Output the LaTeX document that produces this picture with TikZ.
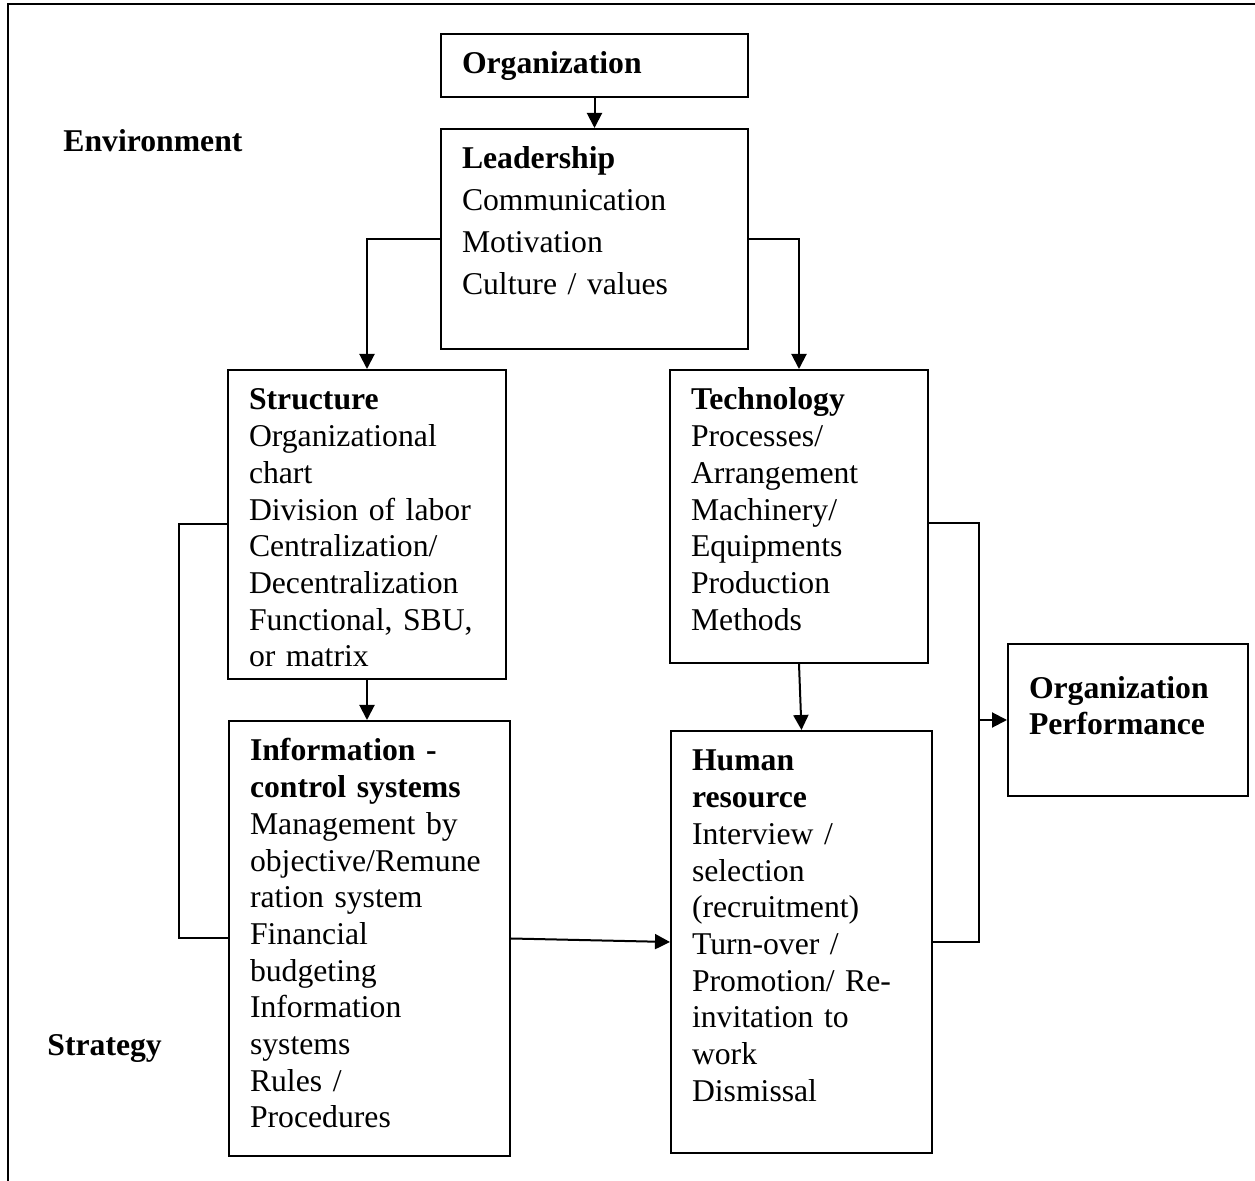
\documentclass[tikz,border=0pt]{standalone}
\usepackage{fontspec}
\setmainfont{Liberation Serif}
\usetikzlibrary{arrows.meta}
\tikzset{
  block/.style={draw, line width=1pt, anchor=north west, align=left,
    inner xsep=10.5pt, inner ysep=0pt, text height=20pt,
    font=\fontsize{15.85}{18.35}\selectfont},
  sidetext/.style={anchor=base west, inner sep=0pt,
    font=\fontsize{15.85}{18.35}\selectfont\bfseries},
  link/.style={line width=1pt},
  arr/.style={link, -{Triangle[length=7.5pt,width=7.5pt]}}
}

\begin{document}
\begin{tikzpicture}[x=0.5pt, y=-0.5pt]
  \useasboundingbox (0,0) rectangle (1255,1181);
  \draw[line width=1.2pt] (8,1181) -- (8,4) -- (1255,4);

  \node[sidetext] (env) at (63,152) {Environment};
  \node[sidetext] (strat) at (47,1056) {Strategy};

  \node[block, text width=132.5pt, text depth=11.5pt] (org) at (440,33)
    {\textbf{Organization}};
  \node[block, text width=132.5pt, text depth=90pt,
    font=\fontsize{15.85}{21}\selectfont] (lead) at (440,128)
    {\textbf{Leadership}\\Communication\\Motivation\\Culture / values};
  \node[block, text width=118pt, text depth=134.5pt] (struct) at (227,369)
    {\textbf{Structure}\\Organizational\\chart\\Division of labor\\Centralization/\\Decentralization\\Functional, SBU,\\or matrix};
  \node[block, text width=108pt, text depth=126.5pt] (tech) at (669,369)
    {\textbf{Technology}\\Processes/\\Arrangement\\Machinery/\\Equipments\\Production\\Methods};
  \node[block, text width=119.5pt, text depth=197.5pt] (info) at (228,720)
    {\textbf{Information -}\\\textbf{control systems}\\Management by\\objective/Remune\\ration system\\Financial\\budgeting\\Information\\systems\\Rules /\\Procedures};
  \node[block, text width=109.5pt, text depth=191pt] (hr) at (670,730)
    {\textbf{Human}\\\textbf{resource}\\Interview /\\selection\\(recruitment)\\Turn-over /\\Promotion/ Re-\\invitation to\\work\\Dismissal};
  \node[block, text width=99pt, text height=27.5pt, text depth=48.5pt,
    font=\fontsize{15.85}{18}\selectfont] (perf) at (1007,643)
    {\textbf{Organization}\\\textbf{Performance}};

  \coordinate (lbr) at (179,0);
  \coordinate (rbr) at (979,0);

  \draw[arr] (org.south) -- (lead.north);
  \draw[arr] (lead.west) -| (struct.north);
  \draw[arr] (lead.east) -| (tech.north);
  \draw[arr] (struct.south) -- (struct.south |- info.north);
  \draw[arr] (tech.south) -- (hr.north);
  \draw[arr] (info.east) -- (hr.west);
  \draw[link] (struct.west) -- (struct.west -| lbr) |- (info.west);
  \draw[link] ([yshift=-3.5pt]tech.east) -- ([yshift=-3.5pt]tech.east -| rbr) |- (hr.east);
  \draw[arr] (rbr |- perf.west) -- (perf.west);
\end{tikzpicture}
\end{document}
